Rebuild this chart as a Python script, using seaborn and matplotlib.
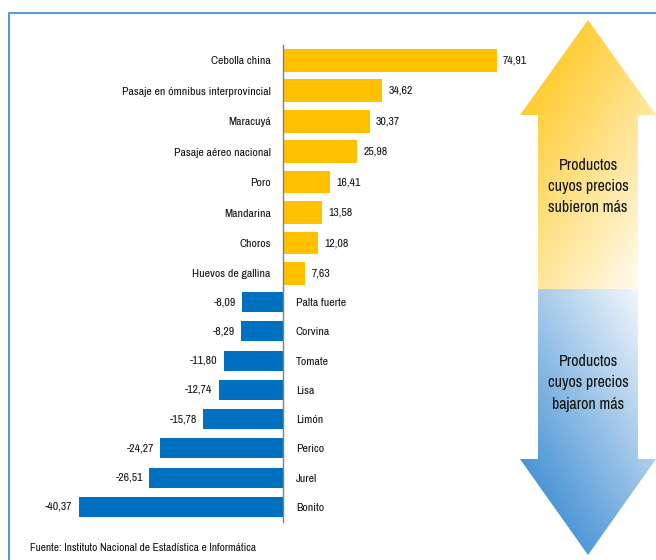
import numpy as np
import seaborn as sns
import matplotlib
matplotlib.use('Agg')
import matplotlib.pyplot as plt
from matplotlib import font_manager
from matplotlib.patches import Polygon

# datos
up_labels = ['Cebolla china', 'Pasaje en ómnibus interprovincial', 'Maracuyá',
             'Pasaje aéreo nacional', 'Poro', 'Mandarina', 'Choros', 'Huevos de gallina']
up_values = [74.91, 34.62, 30.37, 25.98, 16.41, 13.58, 12.08, 7.63]
down_labels = ['Palta fuerte', 'Corvina', 'Tomate', 'Lisa', 'Limón', 'Perico', 'Jurel', 'Bonito']
down_values = [-8.09, -8.29, -11.80, -12.74, -15.78, -24.27, -26.51, -40.37]
source = 'Fuente: Instituto Nacional de Estadística e Informática'
up_text = 'Productos\ncuyos precios\nsubieron más'
down_text = 'Productos\ncuyos precios\nbajaron más'

GOLD = '#FFC000'
BLUE = '#0070C0'
TXT = '#111111'
W, H = 656, 560

sns.set_style('white')

# busca una fuente estrecha instalada
names = sorted({f.name for f in font_manager.fontManager.ttflist})
narrow = [n for n in names if 'Narrow' in n] + [n for n in names if 'Condensed' in n]
plt.rcParams['font.family'] = narrow[:1] + ['DejaVu Sans']
plt.rcParams['font.stretch'] = 'condensed'


def fmt(v):
    return f'{v:.2f}'.replace('.', ',')


def px_axes(fig, x0, y0, x1, y1):
    # rectangulo en pixeles (origen arriba-izquierda)
    return fig.add_axes([x0 / W, 1 - y1 / H, (x1 - x0) / W, (y1 - y0) / H])


fig = plt.figure(figsize=(W / 100, H / 100), dpi=100)

# fondo / decoracion en coordenadas de pixel
deco = fig.add_axes([0, 0, 1, 1])
deco.set_xlim(0, W)
deco.set_ylim(H, 0)
deco.axis('off')
deco.plot([9, 9, W], [H, 13, 13], color='#5B9BD5', lw=1.5, solid_capstyle='butt')


def gradient_arrow(ax, pts, c0, c1, direction):
    poly = Polygon(pts, closed=True, facecolor='none', edgecolor='none')
    ax.add_patch(poly)
    xs = np.array([p[0] for p in pts])
    ys = np.array([p[1] for p in pts])
    gx, gy = np.meshgrid(np.linspace(xs.min(), xs.max(), 200),
                         np.linspace(ys.min(), ys.max(), 400))
    dx, dy = direction
    t = (gx - gx.min()) * dx + (gy - gy.min()) * dy
    t = (t - t.min()) / (t.max() - t.min())
    c0 = np.array(matplotlib.colors.to_rgb(c0))
    c1 = np.array(matplotlib.colors.to_rgb(c1))
    img = c0[None, None, :] * (1 - t[..., None]) + c1[None, None, :] * t[..., None]
    im = ax.imshow(img, extent=(xs.min(), xs.max(), ys.max(), ys.min()),
                   origin='upper', aspect='auto', interpolation='bilinear')
    im.set_clip_path(poly)


up_pts = [(588, 20), (656, 115), (638, 115), (638, 289), (538, 289), (538, 115), (520, 115)]
down_pts = [(538, 289), (638, 289), (638, 459), (656, 459), (588, 555), (520, 459), (538, 459)]
gradient_arrow(deco, up_pts, '#FFC000', '#FFFFFF', (1.6, 1.0))
gradient_arrow(deco, down_pts, '#1F7BCB', '#FFFFFF', (1.6, -1.0))
deco.set_xlim(0, W)
deco.set_ylim(H, 0)
deco.text(588, 187, up_text, ha='center', va='center', fontsize=11.5,
          color=TXT, linespacing=1.5)
deco.text(588, 383, down_text, ha='center', va='center', fontsize=11.5,
          color=TXT, linespacing=1.5)
deco.text(30, 548, source, ha='left', va='center', fontsize=8.2, color=TXT)

# barras que subieron
ax_up = px_axes(fig, 283.3, 45.1, 496.7, 288.7)
sns.barplot(x=up_values, y=up_labels, orient='h', color=GOLD, saturation=1,
            width=0.745, linewidth=0, ax=ax_up)
ax_up.set_xlim(0, max(up_values))
ax_up.set_ylim(len(up_values) - 0.5, -0.5)
ax_up.bar_label(ax_up.containers[0], labels=[fmt(v) for v in up_values],
                padding=4.5, fontsize=8.5, color=TXT)

# barras que bajaron
ax_dn = px_axes(fig, 79, 287.4, 283.3, 521.6)
sns.barplot(x=down_values, y=down_labels, orient='h', color=BLUE, saturation=1,
            width=0.68, linewidth=0, ax=ax_dn)
ax_dn.set_xlim(min(down_values), 0)
ax_dn.set_ylim(len(down_values) - 0.5, -0.5)
ax_dn.yaxis.tick_right()
ax_dn.bar_label(ax_dn.containers[0], labels=[fmt(v) for v in down_values],
                padding=4.5, fontsize=8.5, color=TXT)

for ax, side in [(ax_up, 'left'), (ax_dn, 'right')]:
    ax.set_facecolor('none')
    for s in ax.spines.values():
        s.set_visible(False)
    ax.spines[side].set_visible(True)
    ax.spines[side].set_color('#808080')
    ax.spines[side].set_linewidth(1)
    ax.set_xticks([])
    ax.set_xlabel('')
    ax.set_ylabel('')
    ax.tick_params(axis='y', length=0, pad=9, labelsize=8.5, labelcolor=TXT)

fig.savefig('out.png', dpi=100)
